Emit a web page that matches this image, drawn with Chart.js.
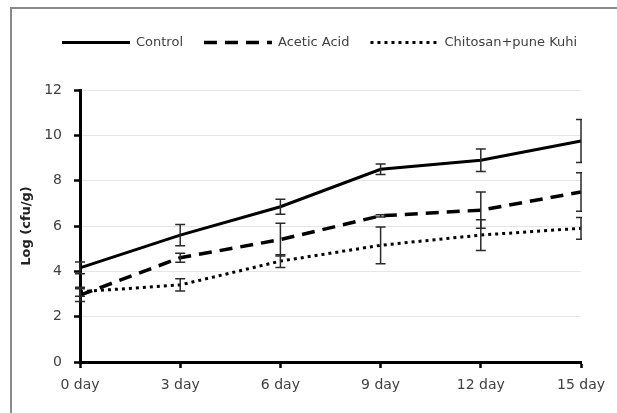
<!DOCTYPE html>
<html>
<head>
<meta charset="utf-8">
<script src="https://cdn.jsdelivr.net/npm/chart.js"></script>
<style>
    html, body { margin: 0; padding: 0; background: #fff; overflow: hidden; }
    #wrap { position: relative; width: 617px; height: 413px; }
    #frame { position: absolute; left: 10px; top: 7px; width: 700px; height: 500px; border: 2px solid #8a8a8a; }
    #lineChart { position: absolute; left: 0; top: 0; }
</style>
</head>
<body>
<div id="wrap">
    <div id="frame"></div>
    <canvas id="lineChart" width="617" height="413"></canvas>
</div>

<script>
    const days = ['0 day', '3 day', '6 day', '9 day', '12 day', '15 day'];

    const control = [4.15, 5.6, 6.85, 8.5, 8.9, 9.75];
    const acetic = [2.95, 4.6, 5.4, 6.45, 6.7, 7.5];
    const chitosan = [3.1, 3.4, 4.45, 5.15, 5.6, 5.9];

    // 误差 (±)
    const controlErr = [0.26, 0.47, 0.33, 0.23, 0.5, 0.95];
    const aceticErr = [0.28, 0.2, 0.72, 0.05, 0.8, 0.85];
    const chitosanErr = [0.2, 0.27, 0.28, 0.81, 0.68, 0.48];

    const yTicks = [0, 2, 4, 6, 8, 10, 12];

    const errors = [controlErr, aceticErr, chitosanErr];
    const font = 'DejaVu Sans';

    const errorBars = {
        id: 'errorBars',
        afterDatasetsDraw(chart) {
            const { ctx, chartArea } = chart;
            const xs = chart.scales.x, ys = chart.scales.y;
            ctx.save();
            ctx.beginPath();
            ctx.rect(0, 0, chartArea.right + 1, chart.height); // 右边的误差线被截掉一半
            ctx.clip();
            ctx.strokeStyle = '#2a2a2a';
            ctx.lineWidth = 1.5;
            errors.forEach((errs, i) => {
                const vals = chart.data.datasets[i].data;
                errs.forEach((e, j) => {
                    const x = xs.getPixelForValue(j);
                    const top = ys.getPixelForValue(vals[j] + e);
                    const bot = ys.getPixelForValue(vals[j] - e);
                    ctx.beginPath();
                    ctx.moveTo(x, top); ctx.lineTo(x, bot);
                    ctx.moveTo(x - 5, top); ctx.lineTo(x + 5, top);
                    ctx.moveTo(x - 5, bot); ctx.lineTo(x + 5, bot);
                    ctx.stroke();
                });
            });
            ctx.restore();
        }
    };

    // 自己画图例
    const topLegend = {
        id: 'topLegend',
        afterDraw(chart) {
            const ctx = chart.ctx;
            const y = 42.5;
            let x = 62;
            ctx.save();
            ctx.font = `13px "${font}"`;
            ctx.textBaseline = 'middle';
            chart.data.datasets.forEach(ds => {
                ctx.strokeStyle = ds.borderColor;
                ctx.lineWidth = ds.borderWidth;
                ctx.setLineDash(ds.borderDash || []);
                ctx.beginPath();
                ctx.moveTo(x, y);
                ctx.lineTo(x + 68, y);
                ctx.stroke();
                ctx.setLineDash([]);
                ctx.fillStyle = '#404040';
                ctx.fillText(ds.label, x + 74, y);
                x += 74 + ctx.measureText(ds.label).width + 21;
            });
            ctx.restore();
        }
    };

    new Chart(document.getElementById('lineChart'), {
        type: 'line',
        data: {
            labels: days,
            datasets: [{
                label: 'Control',
                data: control,
                borderColor: '#000',
                borderWidth: 3
            }, {
                label: 'Acetic Acid',
                data: acetic,
                borderColor: '#000',
                borderWidth: 3.5,
                borderDash: [13, 8]
            }, {
                label: 'Chitosan+pune Kuhi',
                data: chitosan,
                borderColor: '#000',
                borderWidth: 3,
                borderDash: [3, 4]
            }]
        },
        options: {
            responsive: false,
            animation: false,
            devicePixelRatio: 1,
            layout: { padding: { top: 90, right: 36, bottom: 0, left: 0 } },
            elements: { point: { radius: 0 }, line: { tension: 0 } },
            plugins: {
                legend: { display: false },
                tooltip: { enabled: false }
            },
            scales: {
                x: {
                    offset: false,
                    afterFit: s => { s.height = 51; },
                    grid: { drawOnChartArea: false, tickLength: 6, tickColor: '#000', tickWidth: 2.5 },
                    border: { color: '#000', width: 3 },
                    ticks: { padding: 9, color: '#404040', font: { family: font, size: 14 } }
                },
                y: {
                    min: 0,
                    max: 12,
                    afterFit: s => { s.width = 80; },
                    afterBuildTicks: s => { s.ticks = yTicks.map(v => ({ value: v })); },
                    grid: { color: '#e6e6e6', tickLength: 6, tickColor: '#000', tickWidth: 2.5 },
                    border: { color: '#000', width: 3 },
                    ticks: { padding: 12, color: '#404040', font: { family: font, size: 14 } },
                    title: {
                        display: true,
                        text: 'Log (cfu/g)',
                        color: '#222',
                        padding: { top: 19, bottom: 0 },
                        font: { family: font, size: 13, weight: 'bold' }
                    }
                }
            }
        },
        plugins: [errorBars, topLegend]
    });
</script>
</body>
</html>
